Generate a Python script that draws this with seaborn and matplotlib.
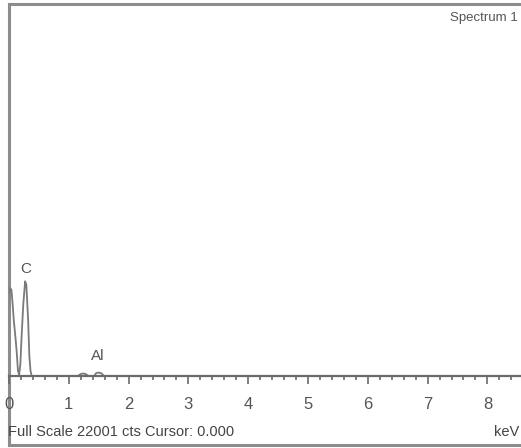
import matplotlib
matplotlib.use("Agg")
import matplotlib.pyplot as plt
import seaborn as sns
import pandas as pd
from matplotlib.ticker import MultipleLocator

sns.set_style("white")
plt.rcParams['font.family'] = ['Liberation Sans Narrow', 'Liberation Sans', 'DejaVu Sans']

# Spectrum trace (keV, counts)
energy = [0.00, 0.02, 0.04, 0.06, 0.08, 0.11, 0.13, 0.15, 0.17, 0.19, 0.21,
          0.24, 0.27, 0.29, 0.32, 0.34, 0.36, 0.38, 1.15, 1.20, 1.24, 1.28,
          1.33, 1.42, 1.46, 1.50, 1.54, 1.59, 8.70]
counts = [4900, 5200, 5100, 4300, 3300, 2200, 1360, 300, 80, 700, 2300,
          4300, 5600, 5400, 3300, 1200, 300, 0, 0, 120, 150, 120,
          0, 0, 180, 200, 170, 0, 0]

labels = ["C", "Al"]
label_x = [0.28, 1.49]
label_y = [5900, 770]

full_scale = 22001
cursor = 0.000

df = pd.DataFrame({"keV": energy, "cts": counts})

W, H = 521, 448
fig = plt.figure(figsize=(W / 100, H / 100), dpi=100)

# outer frame
frame = fig.add_axes([9 / W, 1 - 445 / H, 1.2, (445 - 4) / H])
frame.set_xticks([]); frame.set_yticks([])
for s in frame.spines.values():
    s.set_color("#8c8c8c"); s.set_linewidth(2.2)
frame.patch.set_alpha(0)

# data axes: bottom spine is the baseline at y=376
ax = fig.add_axes([9 / W, 1 - 376 / H, (W - 9) / W, (376 - 4) / H])
ax.patch.set_alpha(0)
sns.lineplot(data=df, x="keV", y="cts", ax=ax, color="#7a7a7a", linewidth=1.3)
ax.set_xlim(0, (W - 9) / 59.8)
ax.set_ylim(0, full_scale)
ax.set_xlabel(""); ax.set_ylabel("")
ax.set_yticks([])
for k in ["top", "right", "left"]:
    ax.spines[k].set_visible(False)
ax.spines["bottom"].set_color("#6a6a6a")
ax.spines["bottom"].set_linewidth(1.6)
ax.xaxis.set_major_locator(MultipleLocator(1))
ax.xaxis.set_minor_locator(MultipleLocator(0.2))
ax.tick_params(axis="x", which="major", direction="out", length=6, width=1.2,
               color="#6a6a6a", labelsize=12, labelcolor="#555555", pad=9, bottom=True)
ax.tick_params(axis="x", which="minor", direction="out", length=3, width=1.2,
               color="#6a6a6a", bottom=True)
ax.set_xticks(range(0, 9))
ax.set_xticklabels([str(i) for i in range(0, 9)])

for t, x, y in zip(labels, label_x, label_y):
    ax.text(x, y, t, ha="center", va="bottom", fontsize=11, color="#555555")

fig.text(518 / W, 1 - 18 / H, "Spectrum 1", ha="right", va="center",
         fontsize=9.5, color="#555555")
fig.text(8 / W, 1 - 432 / H, f"Full Scale {full_scale} cts Cursor: {cursor:.3f}",
         ha="left", va="center", fontsize=10.5, color="#444444")
fig.text(519 / W, 1 - 432 / H, "keV", ha="right", va="center",
         fontsize=10.5, color="#444444")

fig.savefig("out.png", dpi=100)
